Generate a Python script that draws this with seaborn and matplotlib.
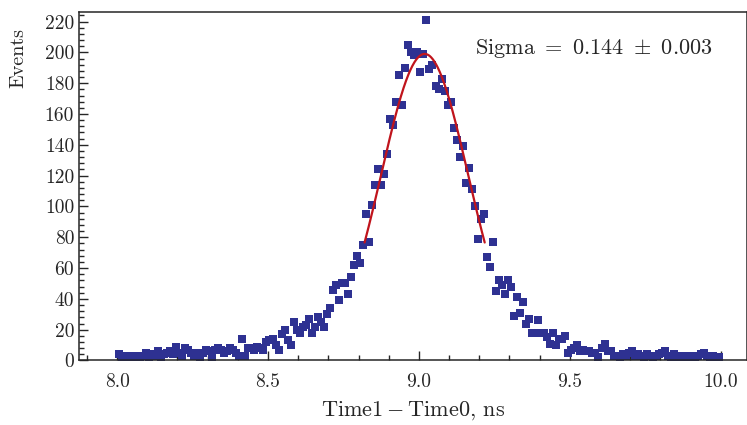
import numpy as np
import pandas as pd
import matplotlib
matplotlib.use("Agg")
import matplotlib.pyplot as plt
from matplotlib.ticker import AutoMinorLocator, FormatStrFormatter, MultipleLocator
import seaborn as sns

# histogram: 200 bins of 0.01 ns from 8.0 to 10.0
x_start = 8.0
bin_width = 0.01

counts_left = [4, 0, 3, 1, 3, 2, 3, 2, 3, 5,
               1, 4, 3, 6, 1, 4, 5, 6, 4, 9,
               5, 3, 8, 7, 5, 3, 5, 2, 5, 7,
               6, 2, 7, 8, 7, 5, 6, 8, 7, 5,
               3, 14, 3, 8, 8, 7, 9, 8, 7, 12]
counts_rise = [13, 14, 10, 7, 17, 20, 13, 10, 25, 20,
               18, 22, 23, 27, 18, 22, 28, 25, 22, 30,
               34, 46, 49, 39, 50, 50, 43, 54, 62, 68,
               63, 75, 95, 77, 101, 114, 124, 114, 121, 134,
               157, 153, 168, 185, 166, 190, 205, 200, 198]
counts_fall = [200, 187, 199, 221, 189, 192, 178, 176, 183, 175,
               166, 168, 151, 143, 132, 139, 115, 125, 111, 100,
               79, 92, 95, 67, 61, 77, 45, 52, 49, 43,
               52, 48, 29, 41, 31, 38, 24, 27, 18, 18,
               26, 18, 18, 15, 11, 18, 10, 14, 14, 16,
               5, 7, 8, 10, 6, 7]
counts_right = [6, 6, 5, 5, 2, 8, 11, 6, 6, 3,
                3, 2, 4, 3, 5, 6, 3, 4, 3, 2,
                4, 3, 2, 3, 4, 5, 6, 3, 2, 4,
                1, 3, 2, 3, 1, 3, 2, 3, 4, 5,
                3, 2, 3, 2, 2]

# gaussian fit result
fit_amp = 199.0
fit_mean = 9.019
fit_sigma = 0.144
fit_sigma_err = 0.003
fit_lo, fit_hi = 8.82, 9.218

counts = counts_left + counts_rise + counts_fall + counts_right
df = pd.DataFrame({
    "time": x_start + bin_width / 2 + bin_width * np.arange(len(counts)),
    "events": counts,
})

xf = np.linspace(fit_lo, fit_hi, 300)
fit = pd.DataFrame({
    "time": xf,
    "events": fit_amp * np.exp(-0.5 * ((xf - fit_mean) / fit_sigma) ** 2),
})

sns.set_style("ticks")
plt.rcParams["font.family"] = "serif"
plt.rcParams["font.serif"] = ["cmr10", "DejaVu Serif"]
plt.rcParams["mathtext.fontset"] = "cm"
plt.rcParams["axes.unicode_minus"] = False

fig = plt.figure(figsize=(7.47, 4.25), dpi=100)
ax = fig.add_axes([0.1058, 0.1518, 0.8942, 0.8192])

sns.scatterplot(data=df, x="time", y="events", marker="s", s=30,
                color="#2e3192", linewidth=0, ax=ax, zorder=2)
sns.lineplot(data=fit, x="time", y="events", color="#c0141c",
             linewidth=1.6, ax=ax, zorder=3)

ax.set_xlim(7.874, 10.087)
ax.set_ylim(0, 226)
ax.xaxis.set_major_locator(MultipleLocator(0.5))
ax.xaxis.set_major_formatter(FormatStrFormatter("%.1f"))
ax.xaxis.set_minor_locator(AutoMinorLocator(5))
ax.yaxis.set_major_locator(MultipleLocator(20))
ax.yaxis.set_minor_locator(AutoMinorLocator(5))
ax.tick_params(which="both", direction="in", labelsize=14, width=1.0)
ax.tick_params(which="major", length=6.5)
ax.tick_params(which="minor", length=3.5)
ax.tick_params(axis="x", pad=9)
for sp in ax.spines.values():
    sp.set_linewidth(1.1)

ax.set_xlabel(r"$\mathrm{Time1 - Time0}$, ns", fontsize=16, labelpad=6)
ax.set_ylabel("Events", fontsize=14.5, ha="right")
ax.yaxis.set_label_coords(-0.078, 0.955)

ax.text(0.593, 0.895,
        r"$\mathrm{Sigma}\ =\ %.3f\ \pm\ %.3f$" % (fit_sigma, fit_sigma_err),
        transform=ax.transAxes, fontsize=16, va="center", ha="left")

fig.savefig("out.png", dpi=100)
